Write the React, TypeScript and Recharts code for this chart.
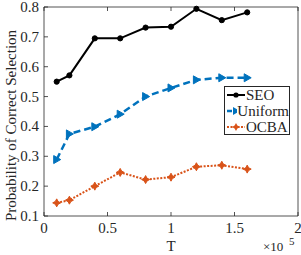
import React from 'react';
import { LineChart, Line, XAxis, YAxis } from 'recharts';

const tValues = [0.1, 0.2, 0.4, 0.6, 0.8, 1.0, 1.2, 1.4, 1.6];
const seoValues = [0.55, 0.571, 0.695, 0.695, 0.731, 0.734, 0.794, 0.756, 0.782];
const uniformValues = [0.289, 0.375, 0.399, 0.441, 0.5, 0.529, 0.556, 0.563, 0.563];
const ocbaValues = [0.144, 0.153, 0.2, 0.246, 0.222, 0.23, 0.265, 0.27, 0.257];
const xTicks = [0, 0.5, 1, 1.5, 2];
const yTicks = [0.1, 0.2, 0.3, 0.4, 0.5, 0.6, 0.7, 0.8];

const data = tValues.map((t, i) => ({ t, seo: seoValues[i], uniform: uniformValues[i], ocba: ocbaValues[i] }));

const FONT = '"Liberation Serif", "DejaVu Serif", serif';
const AX = '#262626';
const BLUE = '#0072BD';
const ORANGE = '#D95319';

const BottomTick = (props: any) => {
  const { x, y, payload } = props;
  return (
    <g>
      <line x1={x} y1={y} x2={x} y2={y - 4} stroke={AX} strokeWidth={0.8} />
      <text x={x} y={y + 17} textAnchor="middle" fontFamily={FONT} fontSize={15} fill={AX}>
        {String(payload.value)}
      </text>
    </g>
  );
};
const TopTick = (props: any) => {
  const { x, y } = props;
  return <line x1={x} y1={y} x2={x} y2={y + 4} stroke={AX} strokeWidth={0.8} />;
};
const LeftTick = (props: any) => {
  const { x, y, payload } = props;
  return (
    <g>
      <line x1={x} y1={y} x2={x + 4} y2={y} stroke={AX} strokeWidth={0.8} />
      <text x={x - 5} y={y + 5} textAnchor="end" fontFamily={FONT} fontSize={15} fill={AX}>
        {payload.value.toFixed(1)}
      </text>
    </g>
  );
};
const RightTick = (props: any) => {
  const { x, y } = props;
  return <line x1={x} y1={y} x2={x - 4} y2={y} stroke={AX} strokeWidth={0.8} />;
};

const Circle = (props: any) => {
  const { cx, cy } = props;
  return <circle cx={cx} cy={cy} r={2.6} fill="#000" stroke="#000" />;
};
const Tri = (props: any) => {
  const { cx, cy } = props;
  return <path d={`M${cx + 4},${cy} L${cx - 3},${cy - 4} L${cx - 3},${cy + 4} Z`} fill={BLUE} stroke={BLUE} />;
};
const Star = (props: any) => {
  const { cx, cy } = props;
  const r = 4;
  const s = 1.4;
  return (
    <path
      d={`M${cx},${cy - r} L${cx + s},${cy - s} L${cx + r},${cy} L${cx + s},${cy + s} L${cx},${cy + r} L${cx - s},${cy + s} L${cx - r},${cy} L${cx - s},${cy - s} Z`}
      fill={ORANGE}
      stroke={ORANGE}
      strokeWidth={1}
    />
  );
};

const XLabel = (props: any) => {
  const vb = props.viewBox || { x: 44, y: 216, width: 254, height: 39 };
  const cx = vb.x + vb.width / 2;
  return (
    <g>
      <text x={cx} y={251} textAnchor="middle" fontFamily={FONT} fontSize={15} fill={AX}>T</text>
      <text x={263} y={251} fontFamily={FONT} fontSize={13} fill={AX}>×10</text>
      <text x={289} y={245} fontFamily={FONT} fontSize={11} fill={AX}>5</text>
    </g>
  );
};

const YLabel = (props: any) => {
  const vb = props.viewBox || { x: 0, y: 7, width: 44, height: 209 };
  const cy = vb.y + vb.height / 2 + 14;
  return (
    <text
      x={16}
      y={cy}
      transform={`rotate(-90, 16, ${cy})`}
      textAnchor="middle"
      fontFamily={FONT}
      fontSize={15}
      fill={AX}
    >
      Probability of Correct Selection
    </text>
  );
};

const LegendRow = ({ label, kind }: { label: string; kind: string }) => {
  let icon: React.ReactNode = null;
  if (kind === 'seo') {
    icon = (
      <>
        <line x1={1} y1={6} x2={19} y2={6} stroke="#000" strokeWidth={2} />
        <circle cx={10} cy={6} r={2.6} fill="#000" />
      </>
    );
  } else if (kind === 'uniform') {
    icon = (
      <>
        <line x1={1} y1={6} x2={19} y2={6} stroke={BLUE} strokeWidth={2.5} strokeDasharray="5 3" />
        <path d="M14,6 L7,2 L7,10 Z" fill={BLUE} />
      </>
    );
  } else {
    icon = (
      <>
        <line x1={1} y1={6} x2={19} y2={6} stroke={ORANGE} strokeWidth={2} strokeDasharray="2 1.5" />
        <path d="M10,2 L11.4,4.6 L14,6 L11.4,7.4 L10,10 L8.6,7.4 L6,6 L8.6,4.6 Z" fill={ORANGE} />
      </>
    );
  }
  return (
    <div style={{ display: 'flex', alignItems: 'center', height: 16 }}>
      <svg width={20} height={12} style={{ display: 'block' }}>{icon}</svg>
      <span style={{ fontFamily: FONT, fontSize: 15, color: AX, marginLeft: 0, lineHeight: '16px', whiteSpace: 'nowrap' }}>{label}</span>
    </div>
  );
};

export default function App() {
  return (
    <div style={{ position: 'absolute', left: 0, top: 0, width: 301, height: 255, background: '#fff' }}>
      <LineChart
        width={301}
        height={255}
        data={data}
        margin={{ top: 6, right: 2, bottom: 0, left: 0 }}
      >
        <XAxis
          dataKey="t"
          type="number"
          domain={[0, 2]}
          ticks={xTicks}
          interval={0}
          height={39}
          tickSize={0}
          tickMargin={0}
          tick={<BottomTick />}
          axisLine={{ stroke: AX, strokeWidth: 0.8 }}
          label={<XLabel />}
        />
        <XAxis
          xAxisId="top"
          orientation="top"
          dataKey="t"
          type="number"
          domain={[0, 2]}
          ticks={xTicks}
          interval={0}
          height={1}
          tickSize={0}
          tickMargin={0}
          tick={<TopTick />}
          axisLine={{ stroke: AX, strokeWidth: 0.8 }}
        />
        <YAxis
          type="number"
          domain={[0.1, 0.8]}
          ticks={yTicks}
          interval={0}
          width={44}
          tickSize={0}
          tickMargin={0}
          tick={<LeftTick />}
          axisLine={{ stroke: AX, strokeWidth: 0.8 }}
          label={<YLabel />}
        />
        <YAxis
          yAxisId="right"
          orientation="right"
          type="number"
          domain={[0.1, 0.8]}
          ticks={yTicks}
          interval={0}
          width={1}
          tickSize={0}
          tickMargin={0}
          tick={<RightTick />}
          axisLine={{ stroke: AX, strokeWidth: 0.8 }}
        />
        <Line
          dataKey="seo"
          stroke="#000"
          strokeWidth={2}
          dot={<Circle />}
          isAnimationActive={false}
        />
        <Line
          dataKey="uniform"
          stroke={BLUE}
          strokeWidth={2.5}
          strokeDasharray="7 4"
          dot={<Tri />}
          isAnimationActive={false}
        />
        <Line
          dataKey="ocba"
          stroke={ORANGE}
          strokeWidth={2}
          strokeDasharray="2 1.5"
          dot={<Star />}
          isAnimationActive={false}
        />
      </LineChart>
      <div
        style={{
          position: 'absolute',
          left: 224,
          top: 86,
          width: 66,
          height: 49,
          border: `1px solid ${AX}`,
          background: '#fff',
          boxSizing: 'border-box',
          paddingLeft: 1,
          paddingTop: 0,
        }}
      >
        <LegendRow label="SEO" kind="seo" />
        <LegendRow label="Uniform" kind="uniform" />
        <LegendRow label="OCBA" kind="ocba" />
      </div>
    </div>
  );
}
